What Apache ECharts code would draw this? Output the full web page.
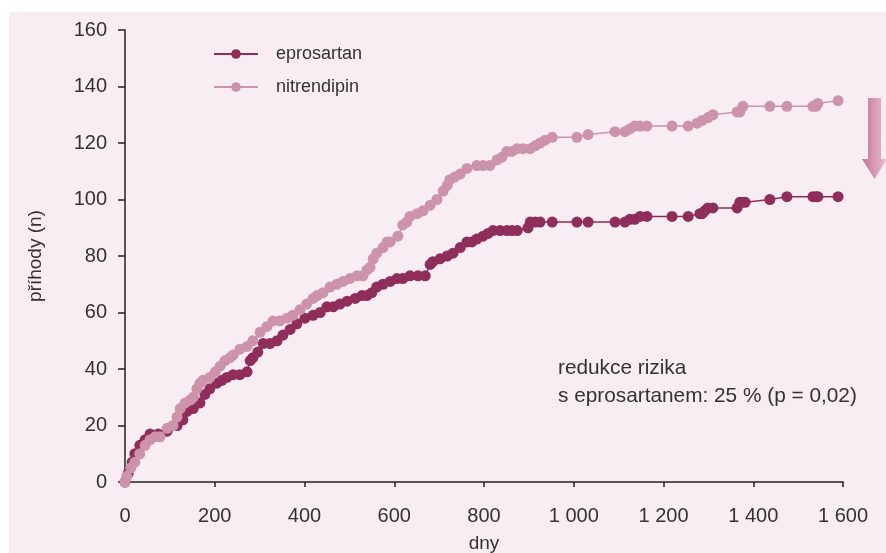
<!DOCTYPE html>
<html>
<head>
<meta charset="utf-8">
<script src="https://cdn.jsdelivr.net/npm/echarts@6/dist/echarts.min.js"></script>
<style>
  html, body { margin: 0; padding: 0; background: #fff; }
  #chart { width: 886px; height: 553px; }
</style>
</head>
<body>
<div id="chart"></div>
<script>
const epDays = [0, 7, 16, 22, 33, 45, 56, 74, 94, 116, 129, 138, 152, 167, 178, 189, 205, 216, 227, 241, 256, 272, 279, 285, 296, 308, 323, 339, 352, 368, 383, 401, 419, 435, 450, 464, 479, 495, 513, 528, 539, 550, 561, 575, 591, 606, 619, 635, 653, 669, 680, 686, 702, 718, 731, 747, 762, 773, 784, 798, 809, 820, 836, 851, 862, 874, 898, 903, 914, 925, 952, 1007, 1032, 1092, 1114, 1125, 1136, 1148, 1163, 1219, 1255, 1281, 1286, 1292, 1299, 1310, 1364, 1370, 1375, 1382, 1437, 1475, 1533, 1540, 1544, 1589];
const epEvents = [0, 3, 7, 10, 13, 15, 17, 17, 18, 20, 22, 25, 26, 28, 31, 33, 35, 36, 37, 38, 38, 39, 43, 44, 46, 49, 49, 50, 52, 54, 56, 58, 59, 60, 62, 62, 63, 64, 65, 66, 66, 67, 69, 70, 71, 72, 72, 73, 73, 73, 77, 78, 79, 80, 81, 83, 85, 85, 86, 87, 88, 89, 89, 89, 89, 89, 90, 92, 92, 92, 92, 92, 92, 92, 92, 93, 93, 94, 94, 94, 94, 95, 95, 96, 97, 97, 97, 99, 99, 99, 100, 101, 101, 101, 101, 101];

const niDays = [0, 4, 13, 22, 33, 45, 56, 67, 78, 94, 107, 116, 123, 134, 145, 152, 160, 167, 174, 189, 201, 212, 223, 234, 241, 256, 272, 285, 301, 316, 330, 345, 361, 374, 390, 405, 419, 428, 441, 457, 472, 486, 501, 517, 530, 539, 546, 553, 561, 575, 584, 591, 608, 619, 628, 635, 651, 664, 680, 695, 709, 718, 724, 735, 747, 762, 784, 798, 813, 829, 840, 851, 862, 874, 887, 903, 914, 925, 936, 952, 1007, 1032, 1092, 1114, 1125, 1136, 1148, 1163, 1219, 1255, 1275, 1286, 1299, 1310, 1364, 1370, 1377, 1437, 1475, 1533, 1540, 1544, 1589];
const niEvents = [0, 2, 5, 7, 10, 13, 15, 16, 16, 19, 20, 23, 26, 28, 29, 30, 33, 35, 36, 37, 39, 41, 43, 44, 45, 47, 48, 50, 53, 55, 57, 57, 58, 59, 61, 63, 65, 66, 67, 69, 70, 71, 72, 73, 73, 75, 76, 79, 81, 83, 85, 85, 87, 91, 92, 94, 95, 96, 98, 100, 103, 105, 107, 108, 109, 111, 112, 112, 112, 114, 115, 117, 117, 118, 118, 118, 119, 120, 121, 122, 122, 123, 124, 124, 125, 126, 126, 126, 126, 126, 127, 128, 129, 130, 131, 131, 133, 133, 133, 133, 133, 134, 135];

const xTicks = [0, 200, 400, 600, 800, 1000, 1200, 1400, 1600];
const seriesNames = ['eprosartan', 'nitrendipin'];

const darkColor = '#8f2d5b';
const lightColor = '#cc93ab';
const textColor = '#333333';
const fontFamily = 'Liberation Sans, Arial, sans-serif';

function pairs(xs, ys) {
  return xs.map((x, i) => [x, ys[i]]);
}

const chart = echarts.init(document.getElementById('chart'));

chart.setOption({
  backgroundColor: '#ffffff',
  animation: false,
  textStyle: { fontFamily: fontFamily },
  graphic: [
    {
      type: 'rect',
      z: -10,
      shape: { x: 9, y: 12, width: 877, height: 541 },
      style: { fill: '#f7edf3' }
    },
    {
      type: 'polygon',
      shape: {
        points: [[868, 98], [881, 98], [881, 159], [887, 159], [874.5, 179], [862, 159], [868, 159]]
      },
      style: {
        fill: new echarts.graphic.LinearGradient(0, 0, 1, 0, [
          { offset: 0, color: '#c4759a' },
          { offset: 1, color: '#e8bfd0' }
        ])
      }
    },
    {
      type: 'text',
      left: 558,
      top: 354,
      style: {
        text: 'redukce rizika\ns eprosartanem: 25 % (p = 0,02)',
        fill: textColor,
        font: '20.8px ' + fontFamily,
        lineHeight: 28
      }
    }
  ],
  legend: {
    orient: 'vertical',
    left: 208,
    top: 40,
    itemWidth: 44,
    itemHeight: 12,
    itemGap: 15,
    data: seriesNames,
    textStyle: { color: textColor, fontSize: 18, padding: [0, 0, 0, 13] }
  },
  grid: { left: 125, top: 30, right: 43, bottom: 71, outerBoundsMode: 'none' },
  xAxis: {
    type: 'value',
    min: 0,
    max: 1600,
    interval: 200,
    name: 'dny',
    nameLocation: 'middle',
    nameGap: 52,
    nameTextStyle: { color: textColor, fontSize: 19 },
    axisLine: { show: true, lineStyle: { color: '#222', width: 1.5 } },
    axisTick: { show: true, length: 5, lineStyle: { color: '#222', width: 1.5 } },
    axisLabel: {
      color: textColor,
      fontSize: 20,
      margin: 24,
      formatter: v => xTicks.includes(v) ? String(v).replace(/\B(?=(\d{3})+(?!\d))/g, ' ') : ''
    },
    splitLine: { show: false }
  },
  yAxis: {
    type: 'value',
    min: 0,
    max: 160,
    interval: 20,
    name: 'příhody (n)',
    nameLocation: 'middle',
    nameGap: 80,
    nameTextStyle: { color: textColor, fontSize: 19 },
    axisLine: { show: true, lineStyle: { color: '#222', width: 1.5 } },
    axisTick: { show: true, length: 7, lineStyle: { color: '#222', width: 1.5 } },
    axisLabel: { color: textColor, fontSize: 20, margin: 18 },
    splitLine: { show: false }
  },
  series: [
    {
      name: seriesNames[0],
      type: 'line',
      data: pairs(epDays, epEvents),
      symbol: 'circle',
      symbolSize: 11,
      showAllSymbol: true,
      itemStyle: { color: darkColor },
      lineStyle: { color: darkColor, width: 1.5 }
    },
    {
      name: seriesNames[1],
      type: 'line',
      data: pairs(niDays, niEvents),
      symbol: 'circle',
      symbolSize: 11,
      showAllSymbol: true,
      itemStyle: { color: lightColor },
      lineStyle: { color: lightColor, width: 1.5 }
    }
  ]
});
</script>
</body>
</html>
